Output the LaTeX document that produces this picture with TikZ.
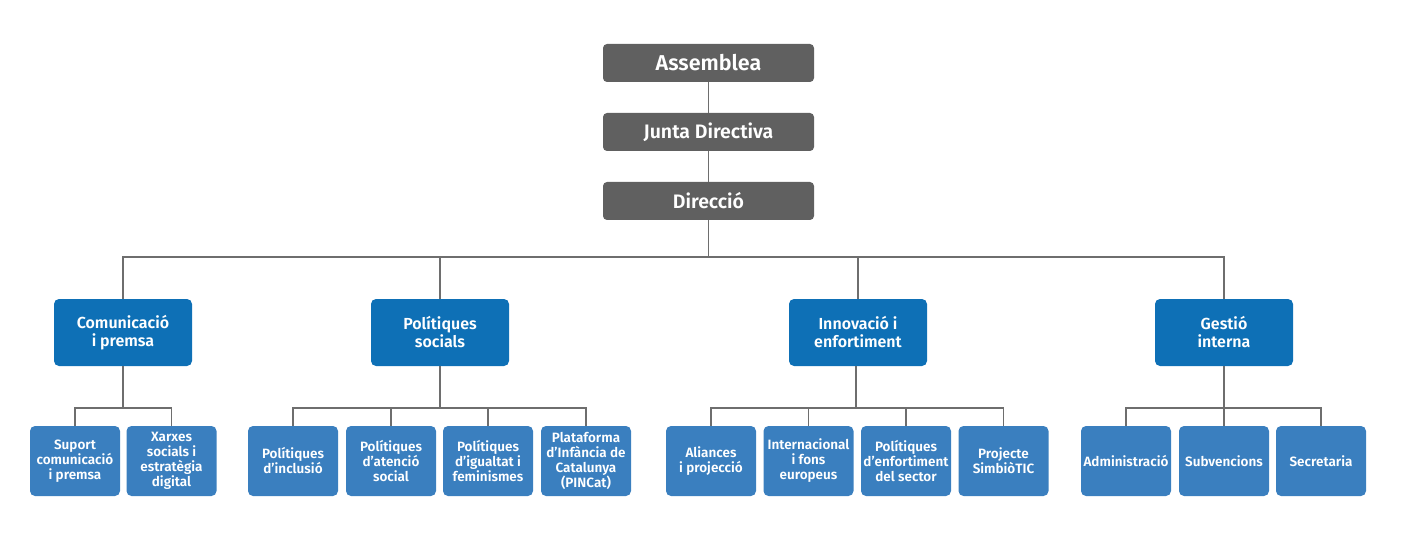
\documentclass[tikz,border=0pt]{standalone}
\usepackage{fontspec}
\setmainfont{Fira Sans}[BoldFont={Fira Sans SemiBold}]
\definecolor{topgray}{HTML}{606060}
\definecolor{areablue}{HTML}{0E70B6}
\definecolor{unitblue}{HTML}{3A7FBF}
\definecolor{linegray}{HTML}{6E6E6E}
\tikzset{
  govbox/.style={draw=none, fill=topgray, rounded corners=4pt, text=white,
    minimum width=211, minimum height=38, inner sep=0pt, font=\bfseries},
  areabox/.style={fill=areablue, rounded corners=5pt, text=white, align=center,
    minimum width=138, minimum height=67, inner sep=0pt,
    font=\fontsize{16}{18}\selectfont\bfseries},
  unitbox/.style={fill=unitblue, rounded corners=5pt, text=white, align=center,
    minimum width=90, minimum height=70, inner sep=0pt,
    font=\fontsize{13.5}{15}\selectfont\bfseries},
  link/.style={draw=linegray, line width=1.1pt}
}
\begin{document}
\begin{tikzpicture}[x=1pt,y=-1pt]
      \useasboundingbox (0,0) rectangle (1403,540);
      % government
      \node [govbox, font=\fontsize{21.5}{24}\selectfont\bfseries] (assem) at (708.5,63) {Assemblea};
      \node [govbox, font=\fontsize{19.5}{22}\selectfont\bfseries] (junta) at (708.5,132) {Junta Directiva};
      \node [govbox, font=\fontsize{19.5}{22}\selectfont\bfseries] (dir) at (708.5,201) {Direcció};
      % areas
      \node [areabox] (com) at (123,332.5) {Comunicació\\i premsa};
      \node [areabox] (pol) at (440,332.5) {Polítiques\\socials};
      \node [areabox] (inn) at (858,332.5) {Innovació i\\enfortiment};
      \node [areabox] (ges) at (1224,332.5) {Gestió\\interna};
      % units
      \node [unitbox] (com1) at (75,461) {Suport\\comunicació\\i premsa};
      \node [unitbox] (com2) at (171.5,461) {Xarxes\\socials i\\estratègia\\digital};
      \node [unitbox] (pol1) at (293,461) {Polítiques\\d’inclusió};
      \node [unitbox] (pol2) at (391,461) {Polítiques\\d’atenció\\social};
      \node [unitbox] (pol3) at (488,461) {Polítiques\\d’igualtat i\\feminismes};
      \node [unitbox] (pol4) at (586,461) {Plataforma\\d’Infància de\\Catalunya\\(PINCat)};
      \node [unitbox] (inn1) at (711,461) {Aliances\\i projecció};
      \node [unitbox] (inn2) at (808.5,461) {Internacional\\i fons\\europeus};
      \node [unitbox] (inn3) at (906,461) {Polítiques\\d'enfortiment\\del sector};
      \node [unitbox] (inn4) at (1003.5,461) {Projecte\\SimbiòTIC};
      \node [unitbox] (ges1) at (1126,461) {Administració};
      \node [unitbox] (ges2) at (1224,461) {Subvencions};
      \node [unitbox] (ges3) at (1321,461) {Secretaria};
      % buses
      \coordinate (mainbus) at (708.5,257);
      \coordinate (combus) at (123,408);
      \coordinate (polbus) at (440,408);
      \coordinate (innbus) at (856,408);
      \coordinate (gesbus) at (1224,408);
      % links
      \draw [link] (assem) -- (junta);
      \draw [link] (junta) -- (dir);
      \draw [link] (dir) -- (mainbus);
      \foreach \a in {com,pol,inn,ges}
        \draw [link] (mainbus) -| (\a.north);
      \draw [link] (com.south) -- (combus);
      \draw [link] (pol.south) -- (polbus);
      \draw [link] (inn.south -| innbus) -- (innbus);
      \draw [link] (ges.south) -- (gesbus);
      \foreach \u in {com1,com2}
        \draw [link] (combus) -| (\u.north);
      \foreach \u in {pol1,pol2,pol3,pol4}
        \draw [link] (polbus) -| (\u.north);
      \foreach \u in {inn1,inn2,inn3,inn4}
        \draw [link] (innbus) -| (\u.north);
      \foreach \u in {ges1,ges2,ges3}
        \draw [link] (gesbus) -| (\u.north);
\end{tikzpicture}
\end{document}
